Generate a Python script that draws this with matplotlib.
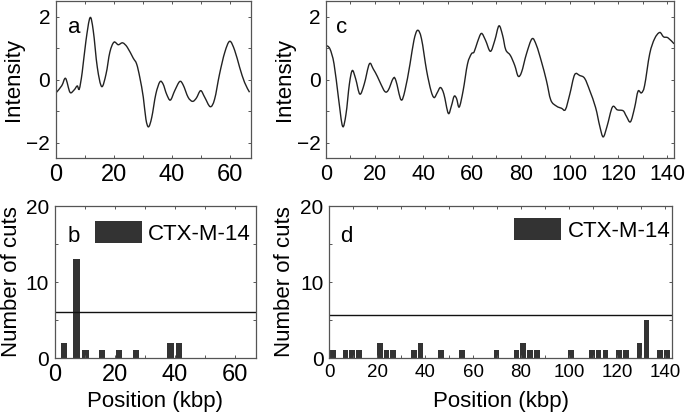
import numpy as np
import matplotlib
matplotlib.use("Agg")
import matplotlib.pyplot as plt
from matplotlib.path import Path
from matplotlib.patches import PathPatch

plt.rcParams['font.family'] = ['Liberation Sans', 'DejaVu Sans']

# Intensity profile, plasmid a (kbp, intensity)
pos_a = [0.3, 2.1, 3.4, 4.9, 6.3, 7.4, 8.1, 9.1, 10.4, 11.8, 12.9, 14.3, 15.8,
         17.3, 18.6, 20.0, 21.5, 23.0, 24.6, 26.6, 27.8, 28.9, 30.1, 31.0, 31.9,
         33.0, 34.4, 35.8, 36.9, 38.1, 39.4, 40.9, 42.6, 43.8, 45.5, 47.0, 48.3,
         49.8, 51.2, 53.1, 54.6, 56.3, 58.1, 59.8, 61.5, 63.2, 64.9, 66.6]
int_a = [-0.40, -0.19, 0.04, -0.40, -0.33, -0.20, -0.30, 0.23, 1.24, 1.97, 1.56,
         0.39, -0.22, 0.18, 0.87, 1.19, 1.11, 1.17, 1.03, 0.69, 0.50, 0.07, -0.56,
         -1.26, -1.50, -1.20, -0.46, -0.07, -0.14, -0.46, -0.65, -0.35, -0.06,
         -0.17, -0.56, -0.69, -0.59, -0.35, -0.56, -0.86, -0.62, 0.18, 0.87, 1.22,
         0.93, 0.39, -0.09, -0.40]

# Intensity profile, plasmid c
pos_c = [0.0, 1.6, 3.3, 5.1, 6.8, 8.2, 9.6, 10.8, 12.2, 13.9, 15.7, 17.8, 19.4,
         21.1, 22.4, 24.2, 25.6, 27.6, 28.7, 30.8, 32.4, 34.5, 36.1, 37.6, 39.2,
         41.3, 43.1, 44.4, 45.7, 47.0, 48.4, 50.2, 51.5, 52.6, 53.6, 54.7, 56.3,
         58.1, 59.7, 60.8, 62.2, 63.8, 65.5, 67.5, 69.3, 71.0, 72.5, 73.8, 75.7,
         77.5, 78.9, 80.3, 82.3, 84.6, 86.4, 88.5, 90.5, 92.3, 94.6, 96.7, 98.3,
         100.1, 102.1, 104.2, 106.2, 108.3, 110.7, 112.4, 113.8, 115.4, 117.6,
         119.6, 122.0, 123.3, 125.0, 126.7, 128.1, 129.5, 130.8, 132.9, 134.9,
         137.0, 138.6, 140.4, 142.9]
int_c = [1.09, 0.98, 0.50, -0.57, -1.48, -1.10, -0.14, 0.29, 0.02, -0.46, -0.14,
         0.50, 0.34, 0.10, -0.12, -0.38, -0.33, 0.04, -0.03, -0.64, -0.35, 0.50,
         1.25, 1.57, 1.30, 0.29, -0.35, -0.57, -0.41, -0.25, -0.46, -1.07, -0.83,
         -0.53, -0.60, -0.87, -0.35, 0.50, 0.82, 0.88, 1.20, 1.47, 1.25, 0.90,
         1.25, 1.71, 1.41, 0.95, 0.77, 0.45, 0.11, 0.24, 0.82, 1.30, 1.09, 0.56,
         -0.03, -0.65, -0.84, -0.91, -0.95, -0.46, 0.16, 0.13, 0.04, -0.35, -0.89,
         -1.48, -1.82, -1.48, -0.87, -0.96, -0.99, -1.16, -1.34, -0.89, -0.37,
         -0.42, -0.19, 0.82, 1.30, 1.50, 1.36, 1.33, 1.14]

# CTX-M-14 cut counts
cut_pos_b = [3.1, 7.3, 10.2, 15.8, 21.4, 27.1, 38.6, 41.4]
cut_cnt_b = [2, 13, 1, 1, 1, 1, 2, 2]
thresh_b = 6.0

cut_pos_d = [1.5, 6.7, 9.5, 12.4, 21.1, 23.9, 26.7, 35.3, 38.1, 46.7, 55.3, 69.7,
             78.1, 80.9, 83.8, 86.6, 100.9, 109.5, 112.3, 115.2, 120.9, 123.8,
             129.5, 132.3, 138.0, 140.9]
cut_cnt_d = [1, 1, 1, 1, 2, 1, 1, 1, 2, 1, 1, 1, 1, 2, 1, 1, 1, 1, 1, 1, 1, 1,
             2, 5, 1, 1]
thresh_d = 5.6

W, H = 685, 413
fig = plt.figure(figsize=(W / 100, H / 100), dpi=100)


def px_axes(l, t, r, b):
    return fig.add_axes([l / W, 1 - b / H, (r - l) / W, (b - t) / H])


def style(ax, xsize, ysize):
    for s in ax.spines.values():
        s.set_color("#555555")
        s.set_linewidth(0.9)
    ax.tick_params(which="both", direction="in", top=True, right=True,
                   length=2.5, width=0.7, color="#555555", pad=4)
    ax.tick_params(axis="x", labelsize=xsize)
    ax.tick_params(axis="y", labelsize=ysize)


def smooth_line(ax, x, y):
    # draw the read points as a Catmull-Rom curve (bezier path in data coords)
    p = np.column_stack([x, y])
    verts = [p[0]]
    codes = [Path.MOVETO]
    for i in range(len(p) - 1):
        p0 = p[max(i - 1, 0)]
        p3 = p[min(i + 2, len(p) - 1)]
        c1 = p[i] + (p[i + 1] - p0) / 6
        c2 = p[i + 1] - (p3 - p[i]) / 6
        verts += [c1, c2, p[i + 1]]
        codes += [Path.CURVE4] * 3
    ax.add_patch(PathPatch(Path(verts, codes), fill=False,
                           edgecolor="#222222", lw=1.0))


ax_a = px_axes(55.7, 1, 250.7, 158.3)
ax_c = px_axes(326, 1, 674.3, 158.3)
ax_b = px_axes(54.7, 206, 255.7, 358)
ax_d = px_axes(329.3, 206, 672, 358)

for ax, x, y, xmax, lab, lab_x, ylab_x, xs in [
        (ax_a, pos_a, int_a, 67, "a", 0.095, -0.165, 17),
        (ax_c, pos_c, int_c, 143, "c", 0.045, -0.09, 15.5)]:
    smooth_line(ax, x, y)
    ax.set_xlim(0, xmax)
    ax.set_ylim(-2.5, 2.5)
    ax.set_yticks([-2, 0, 2])
    ax.set_yticks([-1, 1], minor=True)
    ax.set_ylabel("Intensity", fontsize=16)
    ax.yaxis.set_label_coords(ylab_x, 0.5)
    ax.text(lab_x, 0.83, lab, transform=ax.transAxes,
            fontsize=16, ha="center", va="center")
    style(ax, xs, 15)

ax_a.set_xticks([0, 20, 40, 60])
ax_a.set_xticks([10, 30, 50], minor=True)
ax_c.set_xticks(np.arange(0, 141, 20))
ax_c.set_xticks(np.arange(10, 141, 20), minor=True)

for ax, x, c, th, xmax, bw, lab, leg_x, leg_y, lab_x, ylab_x, xs in [
        (ax_b, cut_pos_b, cut_cnt_b, thresh_b, 67, 2.2, "b", 0.2, 0.90, 0.095,
         -0.165, 17),
        (ax_d, cut_pos_d, cut_cnt_d, thresh_d, 143, 2.35, "d", 0.54, 0.92, 0.05,
         -0.1, 13.5)]:
    bars = ax.bar(x, c, width=bw, color="#333333", label="CTX-M-14")
    ax.axhline(th, color="#111111", lw=1.0)
    ax.set_xlim(0, xmax)
    ax.set_ylim(0, 20)
    ax.set_yticks([0, 10, 20])
    ax.set_yticks([5, 15], minor=True)
    ax.set_ylabel("Number of cuts", fontsize=16)
    ax.yaxis.set_label_coords(ylab_x, 0.5)
    ax.set_xlabel("Position (kbp)", fontsize=16)
    ax.xaxis.set_label_coords(0.5, -0.22)
    ax.text(lab_x, 0.8, lab, transform=ax.transAxes, fontsize=16,
            ha="center", va="center")
    ax.legend(handles=[bars], loc="upper left", bbox_to_anchor=(leg_x, leg_y),
              frameon=False, fontsize=16, handlelength=2.1, handleheight=1.15,
              handletextpad=0.3, borderpad=0, borderaxespad=0)
    style(ax, xs, 15)

ax_b.set_xticks([0, 20, 40, 60])
ax_b.set_xticks([10, 30, 50], minor=True)
ax_d.set_xticks(np.arange(0, 141, 20))
ax_d.set_xticks(np.arange(10, 141, 20), minor=True)

fig.savefig("out.png", dpi=100)
